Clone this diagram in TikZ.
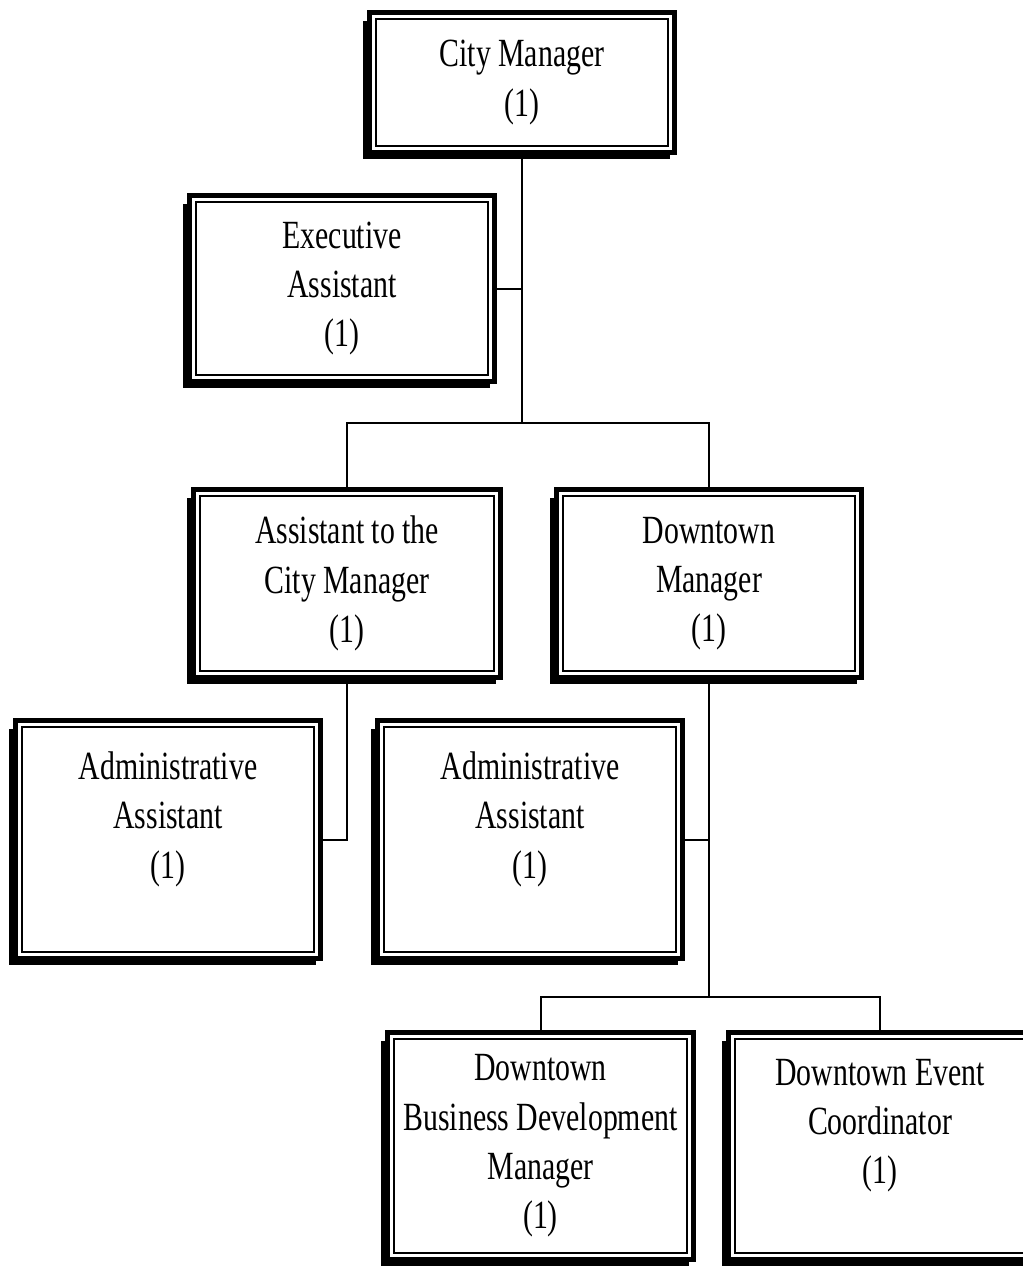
\documentclass[tikz,border=0pt]{standalone}
\usepackage{fontspec}
\setmainfont{Liberation Serif}[FakeStretch=0.745]
\newcommand\orgbox[6]{%
  \fill (#2-#4/2-4, #3-#5/2+11) rectangle (#2+#4/2-7, #3+#5/2+4);
  \node[orgbox, minimum width={(#4-5)*0.75pt}, minimum height={(#5-5)*0.75pt}] (#1) at (#2,#3) {#6};
}
\begin{document}
\begin{tikzpicture}[x=0.75pt,y=-0.75pt,
  orgbox/.style={draw, line width=3.75pt, fill=white, inner sep=0pt, align=center,
    font=\fontsize{30pt}{37pt}\selectfont,
    path picture={\draw[line width=1.5pt] ([shift={(6.5,6.5)}]path picture bounding box.north west) rectangle ([shift={(-6.5,-6.5)}]path picture bounding box.south east);}},
  conn/.style={line width=1.5pt}]
\useasboundingbox (0,0) rectangle (1023,1268);
\orgbox{cm}{522}{82.5}{310}{145}{City Manager\\(1)}
\orgbox{ea}{342}{288.5}{310}{191}{Executive\\Assistant\\(1)}
\orgbox{acm}{347}{583.5}{312}{193}{Assistant to the\\City Manager\\(1)}
\orgbox{dm}{709}{583.5}{310}{193}{Downtown\\Manager\\(1)}
\orgbox{aa1}{168}{839.5}{310}{243}{Administrative\\Assistant\\(1)\\\mbox{}}
\orgbox{aa2}{530}{839.5}{310}{243}{Administrative\\Assistant\\(1)\\\mbox{}}
\orgbox{bdm}{540.5}{1146}{311}{232}{Downtown\\Business Development\\Manager\\(1)}
\orgbox{dec}{880}{1146}{308}{232}{Downtown Event\\Coordinator\\(1)\\\mbox{}}
\coordinate (j1) at (522,423);
\coordinate (j2) at (709,997);
\draw[conn] (cm.south) -- (j1);
\draw[conn] (ea.east) -- (ea.east -| cm.south);
\draw[conn] (acm.north) -- (acm.north |- j1) -- (dm.north |- j1) -- (dm.north);
\draw[conn] (acm.south) |- (aa1.east);
\draw[conn] (dm.south) -- (j2);
\draw[conn] (aa2.east) -- (aa2.east -| dm.south);
\draw[conn] (bdm.north) -- (bdm.north |- j2) -- (dec.north |- j2) -- (dec.north);
\end{tikzpicture}
\end{document}
